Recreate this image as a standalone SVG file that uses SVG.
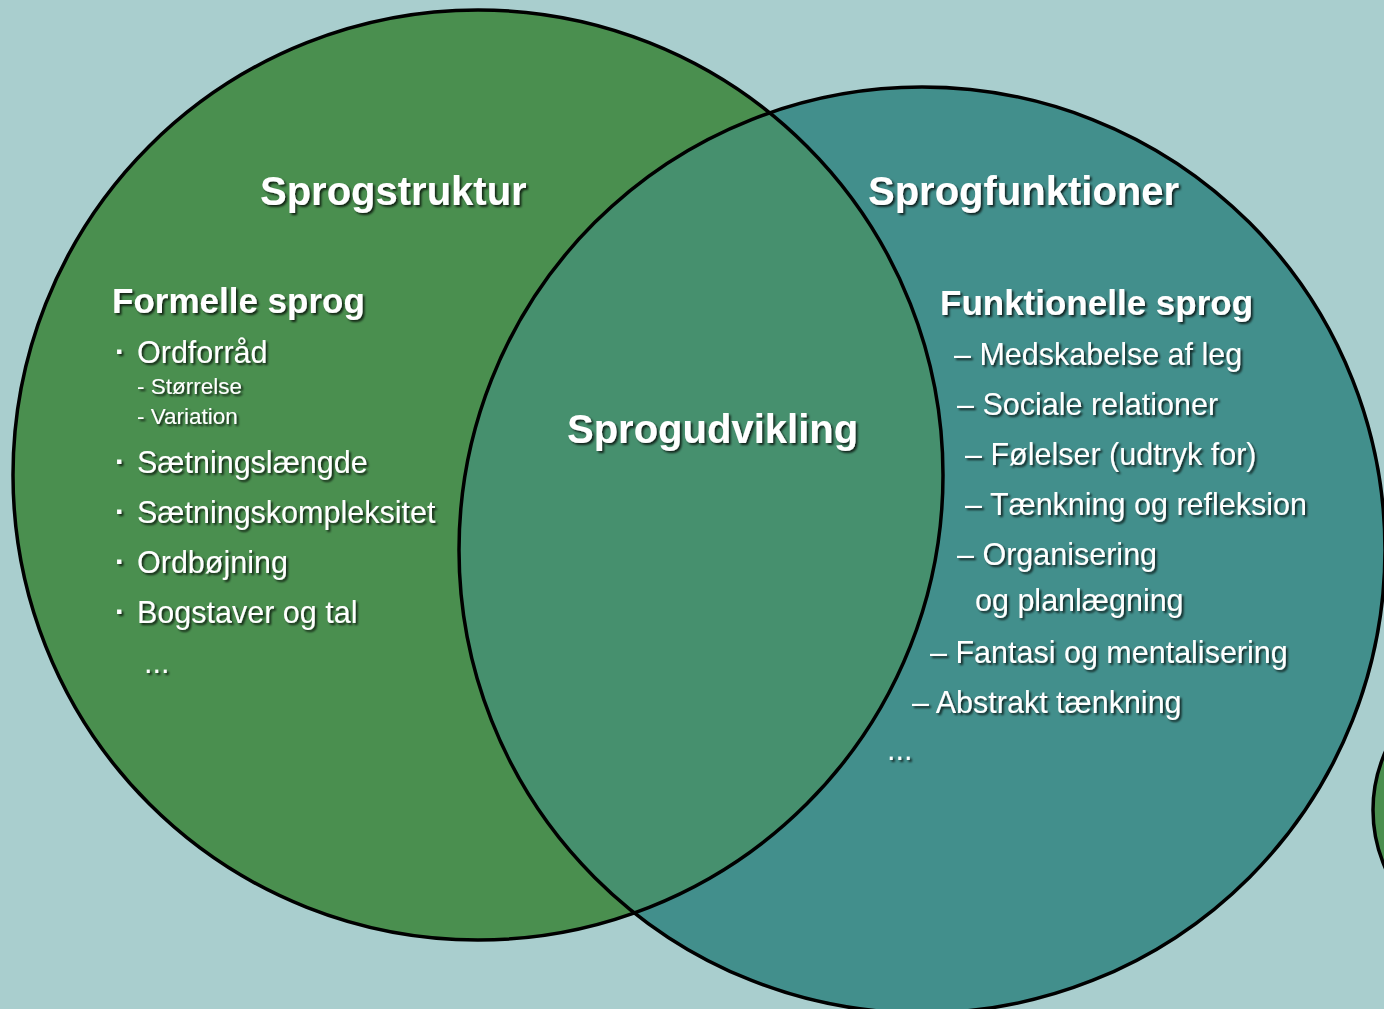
<svg xmlns="http://www.w3.org/2000/svg" width="1384" height="1009" viewBox="0 0 1384 1009">
<defs>
<style>
.bg{fill:#a9cece}
.c{stroke:#000;stroke-width:3.5;fill:none}
.t{font-family:"Liberation Sans",Arial,sans-serif;fill:#fff;filter:url(#sh)}
.h1{font-size:40px;font-weight:bold}
.h2{font-size:35px;font-weight:bold}
.it{font-size:30.5px}
.sub{font-size:22.5px}
.dot{font-size:30px;font-weight:bold}
</style>
<filter id="sh" x="-10%" y="-30%" width="120%" height="160%">
<feDropShadow dx="2" dy="2" stdDeviation="0.8" flood-color="#000" flood-opacity="0.75"/>
</filter>
<clipPath id="leftClip"><circle cx="478" cy="475" r="465"/></clipPath>
</defs>
<rect class="bg" x="0" y="0" width="1384" height="1009"/>
<g id="circles">
<circle id="extra" cx="1516" cy="810" r="143" fill="#4a8f4f" stroke="#000" stroke-width="3.5"/>
<circle cx="478" cy="475" r="465" fill="#4a8f4f"/>
<circle cx="922" cy="550" r="463" fill="#428f8c"/>
<circle cx="922" cy="550" r="463" fill="#46906e" clip-path="url(#leftClip)"/>
<circle class="c" cx="478" cy="475" r="465"/>
<circle class="c" cx="922" cy="550" r="463"/>
</g>
<g id="node-sprogstruktur">
<text class="t h1" x="260" y="205">Sprogstruktur</text>
<text class="t h2" x="112" y="313">Formelle sprog</text>
<text class="t dot" x="115" y="362">·</text><text class="t it" x="137" y="363">Ordforråd</text>
<text class="t sub" x="137" y="394">- Størrelse</text>
<text class="t sub" x="137" y="424">- Variation</text>
<text class="t dot" x="115" y="472">·</text><text class="t it" x="137" y="473">Sætningslængde</text>
<text class="t dot" x="115" y="522">·</text><text class="t it" x="137" y="523">Sætningskompleksitet</text>
<text class="t dot" x="115" y="572">·</text><text class="t it" x="137" y="573">Ordbøjning</text>
<text class="t dot" x="115" y="622">·</text><text class="t it" x="137" y="623">Bogstaver og tal</text>
<text class="t it" x="144" y="673">...</text>
</g>
<g id="node-sprogudvikling">
<text class="t h1" x="567" y="443">Sprogudvikling</text>
</g>
<g id="node-sprogfunktioner">
<text class="t h1" x="868" y="205">Sprogfunktioner</text>
<text class="t h2" x="940" y="315">Funktionelle sprog</text>
<text class="t it" x="954" y="365">– Medskabelse af leg</text>
<text class="t it" x="957" y="415">– Sociale relationer</text>
<text class="t it" x="965" y="465">– Følelser (udtryk for)</text>
<text class="t it" x="965" y="515">– Tænkning og refleksion</text>
<text class="t it" x="957" y="565">– Organisering</text>
<text class="t it" x="975" y="611">og planlægning</text>
<text class="t it" x="930" y="663">– Fantasi og mentalisering</text>
<text class="t it" x="912" y="713">– Abstrakt tænkning</text>
<text class="t it" x="887" y="760">...</text>
</g>
<g id="connectors"></g>
</svg>
